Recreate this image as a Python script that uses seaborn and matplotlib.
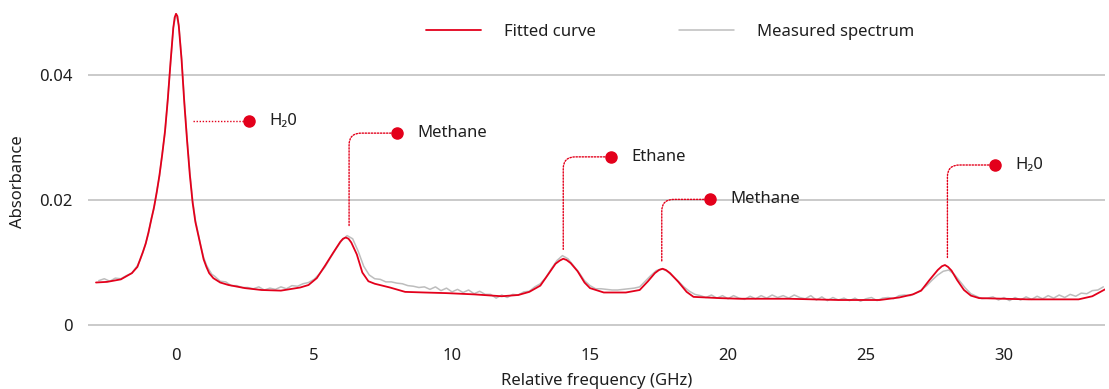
import numpy as np
import pandas as pd
import matplotlib
matplotlib.use("Agg")
import matplotlib.pyplot as plt
import seaborn as sns

# ---------------- data ----------------
fit_x = [-2.9, -2.5, -2.0, -1.6, -1.4, -1.2, -1.1, -1.0, -0.9, -0.8, -0.7, -0.6, -0.5,
         -0.4, -0.3, -0.2, -0.1, -0.05, 0.0, 0.05, 0.1, 0.2, 0.3, 0.4, 0.5, 0.6, 0.7,
         0.8, 0.9, 1.0, 1.1, 1.2, 1.35, 1.6, 1.9, 2.5, 3.1, 3.8, 4.5, 4.8,
         5.1, 5.4, 5.7, 5.95, 6.05, 6.15, 6.25, 6.35, 6.55, 6.75, 6.97, 7.2, 7.75, 8.3,
         9.0, 9.8, 10.8, 11.8, 12.4, 12.8, 13.2, 13.5, 13.75, 13.9, 14.03, 14.15, 14.3,
         14.55, 14.8, 15.0, 15.5, 16.3, 16.8, 17.1, 17.35, 17.5, 17.63, 17.75, 17.9,
         18.2, 18.5, 18.75, 19.7, 20.4, 22.2, 24.0, 25.5, 26.2, 26.7, 27.0, 27.3, 27.6,
         27.75, 27.86, 27.97, 28.1, 28.3, 28.55, 28.8, 29.1, 30.9, 32.7, 33.2, 33.66]
fit_y = [0.0068, 0.0069, 0.0073, 0.0083, 0.0093, 0.0117, 0.0130, 0.0148, 0.0168, 0.0188,
         0.0212, 0.0240, 0.0273, 0.0310, 0.0360, 0.0420, 0.0475, 0.0492, 0.0498, 0.0494,
         0.0478, 0.0425, 0.0355, 0.0295, 0.0240, 0.0196, 0.0165, 0.0145, 0.0125, 0.0105,
         0.0093, 0.0083, 0.0075, 0.0068, 0.0064, 0.0059, 0.0056, 0.0055, 0.0060, 0.0064,
         0.0075, 0.0095, 0.0116, 0.0133, 0.0138, 0.0140, 0.0138, 0.0132, 0.0113, 0.0084,
         0.0070, 0.0066, 0.0060, 0.0053, 0.0052, 0.0051, 0.0049, 0.0046, 0.0048, 0.0053,
         0.0063, 0.0082, 0.0098, 0.0103, 0.0106, 0.0104, 0.0099, 0.0086, 0.0068, 0.0059,
         0.0052, 0.0052, 0.0056, 0.0070, 0.0083, 0.0088, 0.0090, 0.0088, 0.0083, 0.0069,
         0.0053, 0.0045, 0.0043, 0.0042, 0.0042, 0.0040, 0.0040, 0.0044, 0.0049, 0.0055,
         0.0072, 0.0088, 0.0094, 0.0096, 0.0093, 0.0087, 0.0072, 0.0056, 0.0047, 0.0043,
         0.0041, 0.0041, 0.0046, 0.0057]

# measured spectrum: 0.2 GHz samples, 0.1 GHz around the main peak
meas_x = np.round(np.concatenate([np.arange(-2.8, -1.35, 0.2),
                                  np.arange(-1.3, 1.35, 0.1),
                                  np.arange(1.4, 33.61, 0.2)]), 2)
meas_y = [
    0.0071, 0.0074, 0.0070, 0.0075, 0.0074, 0.0079, 0.0083, 0.0095,
    0.0104, 0.0116, 0.0131, 0.0146, 0.0170, 0.0186, 0.0214, 0.0238, 0.0275, 0.0308,
    0.0362, 0.0418, 0.0476, 0.0497, 0.0480, 0.0428, 0.0360, 0.0298, 0.0244, 0.0200,
    0.0168, 0.0147, 0.0126, 0.0108, 0.0096, 0.0088, 0.0081,
    0.0078, 0.0070, 0.0069, 0.0063, 0.0063, 0.0060, 0.0060, 0.0058, 0.0061,
    0.0056, 0.0059, 0.0057, 0.0061, 0.0058, 0.0063, 0.0062, 0.0066, 0.0068, 0.0073,
    0.0082, 0.0093, 0.0108, 0.0122, 0.0135, 0.0143, 0.0138, 0.0118, 0.0094, 0.0080,
    0.0074, 0.0073, 0.0069, 0.0069, 0.0067, 0.0066, 0.0063, 0.0062, 0.0060, 0.0061,
    0.0057, 0.0061, 0.0055, 0.0059, 0.0053, 0.0057, 0.0052, 0.0056, 0.0050, 0.0054,
    0.0049, 0.0049, 0.0043, 0.0048, 0.0044, 0.0049, 0.0048, 0.0053, 0.0054, 0.0061,
    0.0066, 0.0076, 0.0090, 0.0103, 0.0111, 0.0106, 0.0095, 0.0084, 0.0071, 0.0063,
    0.0058, 0.0058, 0.0057, 0.0056, 0.0056, 0.0057, 0.0058, 0.0059, 0.0061, 0.0070,
    0.0079, 0.0087, 0.0090, 0.0086, 0.0078, 0.0070, 0.0061, 0.0054, 0.0049, 0.0047,
    0.0044, 0.0048, 0.0043, 0.0047, 0.0042, 0.0047, 0.0043, 0.0041, 0.0046, 0.0042,
    0.0047, 0.0043, 0.0048, 0.0044, 0.0047, 0.0043, 0.0048, 0.0044, 0.0042, 0.0047,
    0.0040, 0.0045, 0.0039, 0.0044, 0.0040, 0.0043, 0.0039, 0.0043, 0.0038, 0.0042,
    0.0044, 0.0039, 0.0043, 0.0044, 0.0042, 0.0047, 0.0048, 0.0047, 0.0051, 0.0056,
    0.0063, 0.0072, 0.0080, 0.0086, 0.0088, 0.0081, 0.0070, 0.0059, 0.0050, 0.0046,
    0.0042, 0.0043, 0.0045, 0.0040, 0.0044, 0.0039, 0.0044, 0.0040, 0.0045, 0.0041,
    0.0046, 0.0042, 0.0047, 0.0043, 0.0048, 0.0044, 0.0049, 0.0046, 0.0051, 0.0050,
    0.0055, 0.0056, 0.0061]

# annotations: label, dot (x, y), peak x, bottom y of connector
ann_labels = ["H\u20820", "Methane", "Ethane", "Methane", "H\u20820"]
ann_dot_x = [2.64, 8.01, 15.76, 19.35, 29.67]
ann_dot_y = [0.0326, 0.0307, 0.0269, 0.0201, 0.0256]
ann_peak_x = [0.62, 6.27, 14.03, 17.60, 27.95]
ann_peak_y = [0.0326, 0.0158, 0.0121, 0.0101, 0.0108]

x_ticks = [0, 5, 10, 15, 20, 25, 30]
y_ticks = [0, 0.02, 0.04]
y_ticklabels = ["0", "0.02", "0.04"]

# ---------------- styling ----------------
RED = "#e3001b"
GRAY = "#bdbdbd"
GRID = "#bcbcbc"
TXT = "#1f1f1f"
FS = 12

sns.set_theme(style="white")
plt.rcParams["font.family"] = ["Noto Sans", "DejaVu Sans"]

W, H = 1109, 389
fig = plt.figure(figsize=(W / 100, H / 100), dpi=100)
ax_left, ax_right = 88, 1105
ax_top, ax_bot = 12.5, 331.25
ax = fig.add_axes([ax_left / W, (H - ax_bot) / H,
                   (ax_right - ax_left) / W, (ax_bot - ax_top) / H])

meas_df = pd.DataFrame({"x": meas_x, "y": meas_y})
fit_df = pd.DataFrame({"x": fit_x, "y": fit_y})

sns.lineplot(data=meas_df, x="x", y="y", ax=ax, color=GRAY, lw=1.1,
             sort=False, errorbar=None, label="Measured spectrum", zorder=2)
sns.lineplot(data=fit_df, x="x", y="y", ax=ax, color=RED, lw=1.3,
             sort=False, errorbar=None, label="Fitted curve", zorder=3)

ax.set_xlim(-3.19, 33.66)
ax.set_ylim(-0.001, 0.05)

for s in ax.spines.values():
    s.set_visible(False)
ax.set_yticks(y_ticks)
ax.set_yticklabels(y_ticklabels)
ax.set_xticks(x_ticks)
ax.yaxis.grid(True, color=GRID, lw=1.1)
ax.xaxis.grid(False)
ax.set_axisbelow(True)
ax.tick_params(axis="both", length=0, labelsize=FS, labelcolor=TXT)
ax.tick_params(axis="y", pad=11)
ax.tick_params(axis="x", pad=12)

ax.set_xlabel("Relative frequency (GHz)", fontsize=FS, color=TXT)
ax.set_ylabel("Absorbance", fontsize=FS, color=TXT)
ax.xaxis.set_label_coords(0.5, -0.132)
ax.yaxis.set_label_coords(-0.061, 0.47)

# annotations
for lab, dx, dy, px, py in zip(ann_labels, ann_dot_x, ann_dot_y, ann_peak_x, ann_peak_y):
    if abs(py - dy) < 1e-9:
        ax.plot([px, dx], [py, dy], color=RED, lw=1.0, ls=(0, (1, 1.2)), zorder=4)
    else:
        ax.annotate("", xy=(px, py), xytext=(dx, dy),
                    arrowprops=dict(arrowstyle="-", color=RED, lw=1.0,
                                    linestyle=(0, (1, 1.2)), shrinkA=0, shrinkB=0,
                                    connectionstyle="angle,angleA=0,angleB=90,rad=12"),
                    zorder=4)
    ax.plot([dx], [dy], marker="o", ms=8, color=RED, mec=RED, zorder=5)
    ax.text(dx + 0.75, dy, lab, fontsize=FS, color=TXT, va="center", ha="left")

# legend
h, l = ax.get_legend_handles_labels()
order = [l.index("Fitted curve"), l.index("Measured spectrum")]
leg = ax.legend([h[i] for i in order], [l[i] for i in order],
                loc="center", bbox_to_anchor=(670 / W, 1 - 32 / H),
                bbox_transform=fig.transFigure, ncol=2, frameon=False,
                fontsize=FS, handlelength=3.3, handletextpad=1.4,
                columnspacing=4.95)
for t in leg.get_texts():
    t.set_color(TXT)

fig.savefig("out.png", dpi=100)
